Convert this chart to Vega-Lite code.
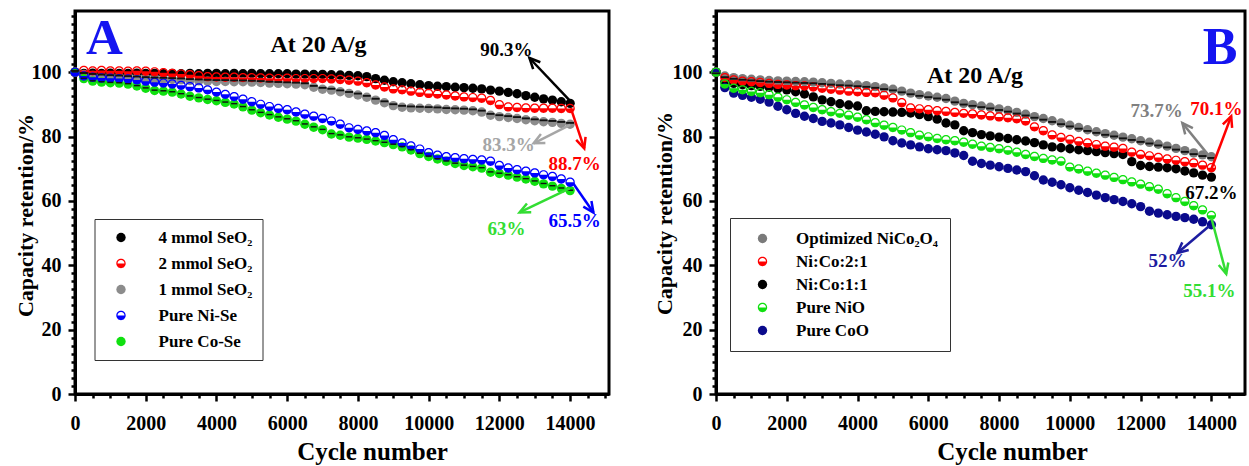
{
"$schema":"https://vega.github.io/schema/vega-lite/v6.json",
"padding":{"left":13,"top":4,"right":0,"bottom":0},
"spacing":40,
"background":"white",
"resolve":{"scale":{"fill":"independent","shape":"independent","size":"independent","color":"independent"},"legend":{"fill":"independent","shape":"independent","size":"independent","color":"independent"}},
"config":{"view":{"stroke":"black","strokeWidth":3},
"axis":{"domainColor":"black","domainWidth":3,"tickColor":"black","tickWidth":2.5,"labelFont":"Liberation Serif","labelFontWeight":"bold","labelFontSize":20,"labelColor":"black","titleFont":"Liberation Serif","titleFontWeight":"bold","titleColor":"black","grid":false,"labelFlush":false,"labelOverlap":false},
"font":"Liberation Serif"},
"datasets":{
"aPts":[
{"s":"a1","x":0,"y":100},{"s":"a1","x":250,"y":99.6},{"s":"a1","x":500,"y":99.7},{"s":"a1","x":750,"y":99.6},{"s":"a1","x":1000,"y":99.7},{"s":"a1","x":1250,"y":99.6},{"s":"a1","x":1500,"y":99.6},{"s":"a1","x":1750,"y":99.7},{"s":"a1","x":2000,"y":99.6},{"s":"a1","x":2250,"y":99.6},{"s":"a1","x":2500,"y":99.5},{"s":"a1","x":2750,"y":99.6},{"s":"a1","x":3000,"y":99.5},{"s":"a1","x":3250,"y":99.6},{"s":"a1","x":3500,"y":99.5},{"s":"a1","x":3750,"y":99.6},{"s":"a1","x":4000,"y":99.6},{"s":"a1","x":4250,"y":99.5},{"s":"a1","x":4500,"y":99.6},{"s":"a1","x":4750,"y":99.5},{"s":"a1","x":5000,"y":99.6},{"s":"a1","x":5250,"y":99.5},{"s":"a1","x":5500,"y":99.5},{"s":"a1","x":5750,"y":99.5},{"s":"a1","x":6000,"y":99.5},{"s":"a1","x":6250,"y":99.4},{"s":"a1","x":6500,"y":99.4},{"s":"a1","x":6750,"y":99.3},{"s":"a1","x":7000,"y":99.3},{"s":"a1","x":7250,"y":99.2},{"s":"a1","x":7500,"y":99.1},{"s":"a1","x":7750,"y":99.0},{"s":"a1","x":8000,"y":98.9},{"s":"a1","x":8250,"y":98.6},{"s":"a1","x":8500,"y":98.0},{"s":"a1","x":8750,"y":97.5},{"s":"a1","x":9000,"y":97.0},{"s":"a1","x":9250,"y":96.7},{"s":"a1","x":9500,"y":96.4},{"s":"a1","x":9750,"y":96.1},{"s":"a1","x":10000,"y":95.8},{"s":"a1","x":10250,"y":95.6},{"s":"a1","x":10500,"y":95.5},{"s":"a1","x":10750,"y":95.3},{"s":"a1","x":11000,"y":95.2},{"s":"a1","x":11250,"y":95.0},{"s":"a1","x":11500,"y":94.8},{"s":"a1","x":11750,"y":94.4},{"s":"a1","x":12000,"y":94.1},{"s":"a1","x":12250,"y":93.7},{"s":"a1","x":12500,"y":93.3},{"s":"a1","x":12750,"y":92.7},{"s":"a1","x":13000,"y":92.2},{"s":"a1","x":13250,"y":91.7},{"s":"a1","x":13500,"y":91.3},{"s":"a1","x":13750,"y":90.8},{"s":"a1","x":14000,"y":90.3},
{"s":"a3","x":0,"y":100},{"s":"a3","x":250,"y":99.3},{"s":"a3","x":500,"y":99.0},{"s":"a3","x":750,"y":98.8},{"s":"a3","x":1000,"y":98.6},{"s":"a3","x":1250,"y":98.5},{"s":"a3","x":1500,"y":98.3},{"s":"a3","x":1750,"y":98.2},{"s":"a3","x":2000,"y":98.0},{"s":"a3","x":2250,"y":97.9},{"s":"a3","x":2500,"y":97.8},{"s":"a3","x":2750,"y":97.7},{"s":"a3","x":3000,"y":97.6},{"s":"a3","x":3250,"y":97.4},{"s":"a3","x":3500,"y":97.3},{"s":"a3","x":3750,"y":97.2},{"s":"a3","x":4000,"y":97.1},{"s":"a3","x":4250,"y":97.1},{"s":"a3","x":4500,"y":97.0},{"s":"a3","x":4750,"y":97.0},{"s":"a3","x":5000,"y":96.9},{"s":"a3","x":5250,"y":96.8},{"s":"a3","x":5500,"y":96.6},{"s":"a3","x":5750,"y":96.5},{"s":"a3","x":6000,"y":96.4},{"s":"a3","x":6250,"y":96.3},{"s":"a3","x":6500,"y":96.1},{"s":"a3","x":6750,"y":95.3},{"s":"a3","x":7000,"y":94.7},{"s":"a3","x":7250,"y":94.4},{"s":"a3","x":7500,"y":93.9},{"s":"a3","x":7750,"y":93.4},{"s":"a3","x":8000,"y":92.9},{"s":"a3","x":8250,"y":92.2},{"s":"a3","x":8500,"y":91.3},{"s":"a3","x":8750,"y":90.5},{"s":"a3","x":9000,"y":89.6},{"s":"a3","x":9250,"y":89.1},{"s":"a3","x":9500,"y":88.9},{"s":"a3","x":9750,"y":88.8},{"s":"a3","x":10000,"y":88.7},{"s":"a3","x":10250,"y":88.6},{"s":"a3","x":10500,"y":88.4},{"s":"a3","x":10750,"y":88.3},{"s":"a3","x":11000,"y":88.2},{"s":"a3","x":11250,"y":88.0},{"s":"a3","x":11500,"y":87.6},{"s":"a3","x":11750,"y":86.6},{"s":"a3","x":12000,"y":86.2},{"s":"a3","x":12250,"y":85.9},{"s":"a3","x":12500,"y":85.6},{"s":"a3","x":12750,"y":85.2},{"s":"a3","x":13000,"y":84.9},{"s":"a3","x":13250,"y":84.6},{"s":"a3","x":13500,"y":84.4},{"s":"a3","x":13750,"y":84.1},{"s":"a3","x":14000,"y":83.8},
{"s":"a2","x":0,"y":100},{"s":"a2","x":250,"y":100.5},{"s":"a2","x":500,"y":100.4},{"s":"a2","x":750,"y":100.5},{"s":"a2","x":1000,"y":100.4},{"s":"a2","x":1250,"y":100.4},{"s":"a2","x":1500,"y":100.3},{"s":"a2","x":1750,"y":100.4},{"s":"a2","x":2000,"y":100.3},{"s":"a2","x":2250,"y":100.1},{"s":"a2","x":2500,"y":99.8},{"s":"a2","x":2750,"y":99.6},{"s":"a2","x":3000,"y":99.4},{"s":"a2","x":3250,"y":99.2},{"s":"a2","x":3500,"y":98.9},{"s":"a2","x":3750,"y":98.6},{"s":"a2","x":4000,"y":98.5},{"s":"a2","x":4250,"y":98.4},{"s":"a2","x":4500,"y":98.4},{"s":"a2","x":4750,"y":98.3},{"s":"a2","x":5000,"y":98.3},{"s":"a2","x":5250,"y":98.2},{"s":"a2","x":5500,"y":98.1},{"s":"a2","x":5750,"y":98.0},{"s":"a2","x":6000,"y":98.1},{"s":"a2","x":6250,"y":98.0},{"s":"a2","x":6500,"y":98.0},{"s":"a2","x":6750,"y":98.0},{"s":"a2","x":7000,"y":98.0},{"s":"a2","x":7250,"y":97.9},{"s":"a2","x":7500,"y":97.7},{"s":"a2","x":7750,"y":97.5},{"s":"a2","x":8000,"y":97.2},{"s":"a2","x":8250,"y":96.7},{"s":"a2","x":8500,"y":96.0},{"s":"a2","x":8750,"y":95.4},{"s":"a2","x":9000,"y":94.8},{"s":"a2","x":9250,"y":94.5},{"s":"a2","x":9500,"y":94.1},{"s":"a2","x":9750,"y":93.7},{"s":"a2","x":10000,"y":93.4},{"s":"a2","x":10250,"y":93.2},{"s":"a2","x":10500,"y":92.9},{"s":"a2","x":10750,"y":92.6},{"s":"a2","x":11000,"y":92.3},{"s":"a2","x":11250,"y":92.1},{"s":"a2","x":11500,"y":91.9},{"s":"a2","x":11750,"y":91.2},{"s":"a2","x":12000,"y":89.9},{"s":"a2","x":12250,"y":89.2},{"s":"a2","x":12500,"y":89.0},{"s":"a2","x":12750,"y":88.9},{"s":"a2","x":13000,"y":88.8},{"s":"a2","x":13250,"y":88.8},{"s":"a2","x":13500,"y":88.8},{"s":"a2","x":13750,"y":88.7},{"s":"a2","x":14000,"y":88.7},
{"s":"a5","x":0,"y":100},{"s":"a5","x":250,"y":98.0},{"s":"a5","x":500,"y":97.2},{"s":"a5","x":750,"y":96.9},{"s":"a5","x":1000,"y":96.7},{"s":"a5","x":1250,"y":96.6},{"s":"a5","x":1500,"y":96.3},{"s":"a5","x":1750,"y":95.7},{"s":"a5","x":2000,"y":95.0},{"s":"a5","x":2250,"y":94.3},{"s":"a5","x":2500,"y":94.1},{"s":"a5","x":2750,"y":93.8},{"s":"a5","x":3000,"y":93.2},{"s":"a5","x":3250,"y":92.5},{"s":"a5","x":3500,"y":92.0},{"s":"a5","x":3750,"y":91.5},{"s":"a5","x":4000,"y":91.1},{"s":"a5","x":4250,"y":90.6},{"s":"a5","x":4500,"y":90.1},{"s":"a5","x":4750,"y":89.2},{"s":"a5","x":5000,"y":88.2},{"s":"a5","x":5250,"y":87.4},{"s":"a5","x":5500,"y":86.7},{"s":"a5","x":5750,"y":86.0},{"s":"a5","x":6000,"y":85.4},{"s":"a5","x":6250,"y":84.8},{"s":"a5","x":6500,"y":83.8},{"s":"a5","x":6750,"y":82.9},{"s":"a5","x":7000,"y":82.1},{"s":"a5","x":7250,"y":80.8},{"s":"a5","x":7500,"y":80.4},{"s":"a5","x":7750,"y":79.8},{"s":"a5","x":8000,"y":79.5},{"s":"a5","x":8250,"y":79.1},{"s":"a5","x":8500,"y":78.6},{"s":"a5","x":8750,"y":78.1},{"s":"a5","x":9000,"y":77.5},{"s":"a5","x":9250,"y":76.8},{"s":"a5","x":9500,"y":75.8},{"s":"a5","x":9750,"y":74.7},{"s":"a5","x":10000,"y":73.8},{"s":"a5","x":10250,"y":73.0},{"s":"a5","x":10500,"y":72.3},{"s":"a5","x":10750,"y":71.6},{"s":"a5","x":11000,"y":71.0},{"s":"a5","x":11250,"y":70.6},{"s":"a5","x":11500,"y":70.2},{"s":"a5","x":11750,"y":68.9},{"s":"a5","x":12000,"y":68.5},{"s":"a5","x":12250,"y":68.0},{"s":"a5","x":12500,"y":67.4},{"s":"a5","x":12750,"y":66.8},{"s":"a5","x":13000,"y":66.1},{"s":"a5","x":13250,"y":65.3},{"s":"a5","x":13500,"y":64.6},{"s":"a5","x":13750,"y":63.9},{"s":"a5","x":14000,"y":63.2},
{"s":"a4","x":0,"y":100},{"s":"a4","x":250,"y":98.8},{"s":"a4","x":500,"y":98.4},{"s":"a4","x":750,"y":98.2},{"s":"a4","x":1000,"y":98.1},{"s":"a4","x":1250,"y":98.0},{"s":"a4","x":1500,"y":97.9},{"s":"a4","x":1750,"y":97.6},{"s":"a4","x":2000,"y":97.2},{"s":"a4","x":2250,"y":96.9},{"s":"a4","x":2500,"y":96.6},{"s":"a4","x":2750,"y":96.3},{"s":"a4","x":3000,"y":95.9},{"s":"a4","x":3250,"y":95.5},{"s":"a4","x":3500,"y":95.1},{"s":"a4","x":3750,"y":94.5},{"s":"a4","x":4000,"y":93.8},{"s":"a4","x":4250,"y":93.1},{"s":"a4","x":4500,"y":92.4},{"s":"a4","x":4750,"y":91.6},{"s":"a4","x":5000,"y":90.8},{"s":"a4","x":5250,"y":90.0},{"s":"a4","x":5500,"y":89.3},{"s":"a4","x":5750,"y":88.7},{"s":"a4","x":6000,"y":88.3},{"s":"a4","x":6250,"y":87.6},{"s":"a4","x":6500,"y":86.9},{"s":"a4","x":6750,"y":86.3},{"s":"a4","x":7000,"y":85.6},{"s":"a4","x":7250,"y":84.8},{"s":"a4","x":7500,"y":83.8},{"s":"a4","x":7750,"y":82.7},{"s":"a4","x":8000,"y":82.2},{"s":"a4","x":8250,"y":81.7},{"s":"a4","x":8500,"y":81.2},{"s":"a4","x":8750,"y":80.3},{"s":"a4","x":9000,"y":79.0},{"s":"a4","x":9250,"y":78.0},{"s":"a4","x":9500,"y":77.1},{"s":"a4","x":9750,"y":76.1},{"s":"a4","x":10000,"y":75.0},{"s":"a4","x":10250,"y":74.2},{"s":"a4","x":10500,"y":73.7},{"s":"a4","x":10750,"y":73.4},{"s":"a4","x":11000,"y":73.1},{"s":"a4","x":11250,"y":72.9},{"s":"a4","x":11500,"y":72.7},{"s":"a4","x":11750,"y":72.3},{"s":"a4","x":12000,"y":71.0},{"s":"a4","x":12250,"y":70.2},{"s":"a4","x":12500,"y":69.7},{"s":"a4","x":12750,"y":69.2},{"s":"a4","x":13000,"y":68.7},{"s":"a4","x":13250,"y":68.1},{"s":"a4","x":13500,"y":67.6},{"s":"a4","x":13750,"y":66.8},{"s":"a4","x":14000,"y":65.8}
],
"bPts":[
{"s":"b3","x":0,"y":100},{"s":"b3","x":250,"y":97.0},{"s":"b3","x":500,"y":96.5},{"s":"b3","x":750,"y":96.1},{"s":"b3","x":1000,"y":95.8},{"s":"b3","x":1250,"y":95.6},{"s":"b3","x":1500,"y":95.3},{"s":"b3","x":1750,"y":94.9},{"s":"b3","x":2000,"y":94.5},{"s":"b3","x":2250,"y":93.9},{"s":"b3","x":2500,"y":93.2},{"s":"b3","x":2750,"y":92.3},{"s":"b3","x":3000,"y":91.4},{"s":"b3","x":3250,"y":90.8},{"s":"b3","x":3500,"y":90.2},{"s":"b3","x":3750,"y":89.8},{"s":"b3","x":4000,"y":89.5},{"s":"b3","x":4250,"y":88.0},{"s":"b3","x":4500,"y":87.8},{"s":"b3","x":4750,"y":87.7},{"s":"b3","x":5000,"y":87.6},{"s":"b3","x":5250,"y":87.5},{"s":"b3","x":5500,"y":87.3},{"s":"b3","x":5750,"y":86.8},{"s":"b3","x":6000,"y":86.2},{"s":"b3","x":6250,"y":85.4},{"s":"b3","x":6500,"y":84.2},{"s":"b3","x":6750,"y":83.6},{"s":"b3","x":7000,"y":81.8},{"s":"b3","x":7250,"y":81.2},{"s":"b3","x":7500,"y":80.6},{"s":"b3","x":7750,"y":80.2},{"s":"b3","x":8000,"y":79.8},{"s":"b3","x":8250,"y":79.4},{"s":"b3","x":8500,"y":79.0},{"s":"b3","x":8750,"y":78.6},{"s":"b3","x":9000,"y":78.1},{"s":"b3","x":9250,"y":77.4},{"s":"b3","x":9500,"y":76.8},{"s":"b3","x":9750,"y":76.5},{"s":"b3","x":10000,"y":76.2},{"s":"b3","x":10250,"y":75.9},{"s":"b3","x":10500,"y":75.6},{"s":"b3","x":10750,"y":75.3},{"s":"b3","x":11000,"y":75.0},{"s":"b3","x":11250,"y":74.7},{"s":"b3","x":11500,"y":74.4},{"s":"b3","x":11750,"y":72.2},{"s":"b3","x":12000,"y":71.0},{"s":"b3","x":12250,"y":70.7},{"s":"b3","x":12500,"y":70.5},{"s":"b3","x":12750,"y":70.3},{"s":"b3","x":13000,"y":70.0},{"s":"b3","x":13250,"y":69.3},{"s":"b3","x":13500,"y":68.7},{"s":"b3","x":13750,"y":68.0},{"s":"b3","x":14000,"y":67.4},
{"s":"b1","x":0,"y":100},{"s":"b1","x":250,"y":98.8},{"s":"b1","x":500,"y":98.3},{"s":"b1","x":750,"y":98.0},{"s":"b1","x":1000,"y":97.8},{"s":"b1","x":1250,"y":97.6},{"s":"b1","x":1500,"y":97.4},{"s":"b1","x":1750,"y":97.3},{"s":"b1","x":2000,"y":97.2},{"s":"b1","x":2250,"y":97.1},{"s":"b1","x":2500,"y":97.0},{"s":"b1","x":2750,"y":96.9},{"s":"b1","x":3000,"y":96.7},{"s":"b1","x":3250,"y":96.5},{"s":"b1","x":3500,"y":96.3},{"s":"b1","x":3750,"y":96.2},{"s":"b1","x":4000,"y":96.0},{"s":"b1","x":4250,"y":95.8},{"s":"b1","x":4500,"y":95.5},{"s":"b1","x":4750,"y":95.1},{"s":"b1","x":5000,"y":94.7},{"s":"b1","x":5250,"y":94.1},{"s":"b1","x":5500,"y":93.5},{"s":"b1","x":5750,"y":93.0},{"s":"b1","x":6000,"y":92.6},{"s":"b1","x":6250,"y":92.2},{"s":"b1","x":6500,"y":91.8},{"s":"b1","x":6750,"y":91.0},{"s":"b1","x":7000,"y":90.3},{"s":"b1","x":7250,"y":89.9},{"s":"b1","x":7500,"y":89.5},{"s":"b1","x":7750,"y":89.1},{"s":"b1","x":8000,"y":88.6},{"s":"b1","x":8250,"y":88.1},{"s":"b1","x":8500,"y":87.5},{"s":"b1","x":8750,"y":86.9},{"s":"b1","x":9000,"y":86.2},{"s":"b1","x":9250,"y":85.6},{"s":"b1","x":9500,"y":84.9},{"s":"b1","x":9750,"y":84.2},{"s":"b1","x":10000,"y":83.5},{"s":"b1","x":10250,"y":82.8},{"s":"b1","x":10500,"y":82.1},{"s":"b1","x":10750,"y":81.5},{"s":"b1","x":11000,"y":80.9},{"s":"b1","x":11250,"y":80.4},{"s":"b1","x":11500,"y":79.8},{"s":"b1","x":11750,"y":79.3},{"s":"b1","x":12000,"y":78.7},{"s":"b1","x":12250,"y":78.2},{"s":"b1","x":12500,"y":77.6},{"s":"b1","x":12750,"y":77.0},{"s":"b1","x":13000,"y":76.3},{"s":"b1","x":13250,"y":75.6},{"s":"b1","x":13500,"y":74.9},{"s":"b1","x":13750,"y":74.3},{"s":"b1","x":14000,"y":73.7},
{"s":"b2","x":0,"y":100},{"s":"b2","x":250,"y":98.3},{"s":"b2","x":500,"y":97.6},{"s":"b2","x":750,"y":97.2},{"s":"b2","x":1000,"y":97.0},{"s":"b2","x":1250,"y":96.8},{"s":"b2","x":1500,"y":96.5},{"s":"b2","x":1750,"y":96.2},{"s":"b2","x":2000,"y":96.0},{"s":"b2","x":2250,"y":95.8},{"s":"b2","x":2500,"y":95.7},{"s":"b2","x":2750,"y":95.4},{"s":"b2","x":3000,"y":95.0},{"s":"b2","x":3250,"y":94.7},{"s":"b2","x":3500,"y":94.4},{"s":"b2","x":3750,"y":94.1},{"s":"b2","x":4000,"y":93.9},{"s":"b2","x":4250,"y":93.7},{"s":"b2","x":4500,"y":93.6},{"s":"b2","x":4750,"y":92.8},{"s":"b2","x":5000,"y":92.0},{"s":"b2","x":5250,"y":90.5},{"s":"b2","x":5500,"y":88.9},{"s":"b2","x":5750,"y":88.6},{"s":"b2","x":6000,"y":88.3},{"s":"b2","x":6250,"y":88.0},{"s":"b2","x":6500,"y":87.8},{"s":"b2","x":6750,"y":87.5},{"s":"b2","x":7000,"y":87.2},{"s":"b2","x":7250,"y":87.0},{"s":"b2","x":7500,"y":86.7},{"s":"b2","x":7750,"y":86.4},{"s":"b2","x":8000,"y":86.1},{"s":"b2","x":8250,"y":85.8},{"s":"b2","x":8500,"y":85.5},{"s":"b2","x":8750,"y":84.8},{"s":"b2","x":9000,"y":83.0},{"s":"b2","x":9250,"y":81.8},{"s":"b2","x":9500,"y":80.5},{"s":"b2","x":9750,"y":79.7},{"s":"b2","x":10000,"y":79.1},{"s":"b2","x":10250,"y":78.5},{"s":"b2","x":10500,"y":78.0},{"s":"b2","x":10750,"y":77.5},{"s":"b2","x":11000,"y":77.0},{"s":"b2","x":11250,"y":76.7},{"s":"b2","x":11500,"y":76.3},{"s":"b2","x":11750,"y":75.1},{"s":"b2","x":12000,"y":74.4},{"s":"b2","x":12250,"y":74.0},{"s":"b2","x":12500,"y":73.5},{"s":"b2","x":12750,"y":73.0},{"s":"b2","x":13000,"y":72.6},{"s":"b2","x":13250,"y":72.2},{"s":"b2","x":13500,"y":71.8},{"s":"b2","x":13750,"y":71.1},{"s":"b2","x":14000,"y":70.3},
{"s":"b5","x":0,"y":100},{"s":"b5","x":250,"y":95.2},{"s":"b5","x":500,"y":93.5},{"s":"b5","x":750,"y":92.8},{"s":"b5","x":1000,"y":92.2},{"s":"b5","x":1250,"y":91.6},{"s":"b5","x":1500,"y":90.7},{"s":"b5","x":1750,"y":89.4},{"s":"b5","x":2000,"y":88.3},{"s":"b5","x":2250,"y":87.2},{"s":"b5","x":2500,"y":86.3},{"s":"b5","x":2750,"y":85.6},{"s":"b5","x":3000,"y":84.7},{"s":"b5","x":3250,"y":84.2},{"s":"b5","x":3500,"y":83.6},{"s":"b5","x":3750,"y":82.8},{"s":"b5","x":4000,"y":82.0},{"s":"b5","x":4250,"y":81.4},{"s":"b5","x":4500,"y":80.7},{"s":"b5","x":4750,"y":79.9},{"s":"b5","x":5000,"y":78.7},{"s":"b5","x":5250,"y":78.0},{"s":"b5","x":5500,"y":77.4},{"s":"b5","x":5750,"y":76.8},{"s":"b5","x":6000,"y":76.2},{"s":"b5","x":6250,"y":75.9},{"s":"b5","x":6500,"y":75.6},{"s":"b5","x":6750,"y":74.9},{"s":"b5","x":7000,"y":74.1},{"s":"b5","x":7250,"y":72.3},{"s":"b5","x":7500,"y":71.6},{"s":"b5","x":7750,"y":71.1},{"s":"b5","x":8000,"y":70.6},{"s":"b5","x":8250,"y":70.1},{"s":"b5","x":8500,"y":69.6},{"s":"b5","x":8750,"y":69.1},{"s":"b5","x":9000,"y":67.8},{"s":"b5","x":9250,"y":66.5},{"s":"b5","x":9500,"y":65.8},{"s":"b5","x":9750,"y":65.0},{"s":"b5","x":10000,"y":64.1},{"s":"b5","x":10250,"y":63.3},{"s":"b5","x":10500,"y":62.6},{"s":"b5","x":10750,"y":61.8},{"s":"b5","x":11000,"y":61.0},{"s":"b5","x":11250,"y":60.4},{"s":"b5","x":11500,"y":59.8},{"s":"b5","x":11750,"y":59.1},{"s":"b5","x":12000,"y":58.2},{"s":"b5","x":12250,"y":56.8},{"s":"b5","x":12500,"y":56.2},{"s":"b5","x":12750,"y":55.7},{"s":"b5","x":13000,"y":55.2},{"s":"b5","x":13250,"y":54.8},{"s":"b5","x":13500,"y":54.3},{"s":"b5","x":13750,"y":53.5},{"s":"b5","x":14000,"y":52.6},
{"s":"b4","x":0,"y":100},{"s":"b4","x":250,"y":96.3},{"s":"b4","x":500,"y":95.0},{"s":"b4","x":750,"y":94.5},{"s":"b4","x":1000,"y":94.0},{"s":"b4","x":1250,"y":93.6},{"s":"b4","x":1500,"y":93.0},{"s":"b4","x":1750,"y":92.2},{"s":"b4","x":2000,"y":91.4},{"s":"b4","x":2250,"y":90.6},{"s":"b4","x":2500,"y":89.8},{"s":"b4","x":2750,"y":89.0},{"s":"b4","x":3000,"y":88.3},{"s":"b4","x":3250,"y":87.7},{"s":"b4","x":3500,"y":87.2},{"s":"b4","x":3750,"y":86.6},{"s":"b4","x":4000,"y":86.0},{"s":"b4","x":4250,"y":85.2},{"s":"b4","x":4500,"y":84.3},{"s":"b4","x":4750,"y":83.5},{"s":"b4","x":5000,"y":82.8},{"s":"b4","x":5250,"y":82.0},{"s":"b4","x":5500,"y":81.2},{"s":"b4","x":5750,"y":80.4},{"s":"b4","x":6000,"y":79.9},{"s":"b4","x":6250,"y":79.4},{"s":"b4","x":6500,"y":79.0},{"s":"b4","x":6750,"y":78.7},{"s":"b4","x":7000,"y":78.2},{"s":"b4","x":7250,"y":77.6},{"s":"b4","x":7500,"y":77.0},{"s":"b4","x":7750,"y":76.6},{"s":"b4","x":8000,"y":76.2},{"s":"b4","x":8250,"y":75.7},{"s":"b4","x":8500,"y":75.1},{"s":"b4","x":8750,"y":74.4},{"s":"b4","x":9000,"y":73.8},{"s":"b4","x":9250,"y":73.2},{"s":"b4","x":9500,"y":72.7},{"s":"b4","x":9750,"y":72.3},{"s":"b4","x":10000,"y":70.5},{"s":"b4","x":10250,"y":69.9},{"s":"b4","x":10500,"y":69.2},{"s":"b4","x":10750,"y":68.6},{"s":"b4","x":11000,"y":68.0},{"s":"b4","x":11250,"y":67.3},{"s":"b4","x":11500,"y":66.6},{"s":"b4","x":11750,"y":65.9},{"s":"b4","x":12000,"y":65.2},{"s":"b4","x":12250,"y":64.4},{"s":"b4","x":12500,"y":63.6},{"s":"b4","x":12750,"y":62.2},{"s":"b4","x":13000,"y":61.0},{"s":"b4","x":13250,"y":59.8},{"s":"b4","x":13500,"y":58.5},{"s":"b4","x":13750,"y":57.2},{"s":"b4","x":14000,"y":55.5}
],
"aArrows":[
{"c":"k","x0":14040,"y0":90.6,"x":12850,"y":104.4},
{"c":"g","x0":14000,"y0":83.6,"x":12970,"y":77.9},
{"c":"r","x0":14020,"y0":88.8,"x":14400,"y":76.3},
{"c":"b","x0":14090,"y0":65.4,"x":14660,"y":56.4},
{"c":"gr","x0":13990,"y0":63.9,"x":12570,"y":56.4}
],
"aLabels":[
{"c":"k","x":12200,"y":106.9,"t":"90.3%"},
{"c":"g","x":12260,"y":77.3,"t":"83.3%"},
{"c":"r","x":14130,"y":71.6,"t":"88.7%"},
{"c":"b","x":14130,"y":53.9,"t":"65.5%"},
{"c":"gr","x":12200,"y":51.4,"t":"63%"}
],
"bArrows":[
{"c":"g","x0":13940,"y0":73.9,"x":13180,"y":84.2},
{"c":"r","x0":14000,"y0":69.9,"x":14560,"y":86.3},
{"c":"n","x0":13940,"y0":52.2,"x":13040,"y":43.8},
{"c":"gr","x0":14000,"y0":54.7,"x":14420,"y":37.3}
],
"bLabels":[
{"c":"g","x":12450,"y":87.9,"t":"73.7%"},
{"c":"r","x":14140,"y":88.5,"t":"70.1%"},
{"c":"k","x":14000,"y":62.4,"t":"67.2%"},
{"c":"n","x":12760,"y":41.3,"t":"52%"},
{"c":"gr","x":13940,"y":32,"t":"55.1%"}
]
},
"hconcat":[
{
"width":534,"height":383,
"encoding":{
"x":{"field":"x","type":"quantitative","scale":{"domain":[0,15100],"nice":false,"zero":false},
"axis":{"title":"Cycle number","values":[0,500,1000,1500,2000,2500,3000,3500,4000,4500,5000,5500,6000,6500,7000,7500,8000,8500,9000,9500,10000,10500,11000,11500,12000,12500,13000,13500,14000,14500,15000],"format":"d","labelExpr":"datum.value % 2000 === 0 ? datum.label : ''","tickSize":{"condition":{"test":"datum.value % 2000 === 0","value":7},"value":4},"labelPadding":12,"titleFontSize":25,"titleX":297,"titleY":65,"titleBaseline":"alphabetic"}},
"y":{"field":"y","type":"quantitative","scale":{"domain":[0,119],"nice":false,"zero":false},
"axis":{"title":"Capacity retention/%","values":[0,2.5,5,7.5,10,12.5,15,17.5,20,22.5,25,27.5,30,32.5,35,37.5,40,42.5,45,47.5,50,52.5,55,57.5,60,62.5,65,67.5,70,72.5,75,77.5,80,82.5,85,87.5,90,92.5,95,97.5,100,102.5,105,107.5,110,112.5,115,117.5],"labelExpr":"datum.value % 20 === 0 && datum.value <= 100 ? datum.label : ''","tickSize":{"condition":{"test":"datum.value % 20 === 0","value":7},"value":4},"labelPadding":7,"titleFontSize":22,"titleX":-49.5,"titleY":204,"titleBaseline":"middle","titleAngle":-90}}
},
"layer":[
{"data":{"name":"aPts"},"mark":{"type":"point","filled":true,"opacity":1,"strokeWidth":0},
"encoding":{
"fill":{"field":"s","type":"nominal","scale":{"domain":["a1","a2","a3","a4","a5"],"range":["#000000","#ff0000","#8c8c8c","#0000ff","#10e010"]},
"legend":{"title":null,"orient":"none","legendX":19.5,"legendY":208,"padding":10,"symbolOffset":8,"labelOffset":29,"rowPadding":8,"strokeColor":"#333333","fillColor":"#ffffff","labelFont":"Liberation Serif","labelFontWeight":"bold","labelFontSize":17,"labelColor":"black","symbolStrokeWidth":0,
"labelExpr":"datum.value === 'a1' ? '4 mmol SeO₂' : datum.value === 'a2' ? '2 mmol SeO₂' : datum.value === 'a3' ? '1 mmol SeO₂' : datum.value === 'a4' ? 'Pure Ni-Se' : 'Pure Co-Se'"}},
"shape":{"field":"s","type":"nominal","scale":{"domain":["a1","a2","a3","a4","a5"],"range":["circle","M-1,0A1,1 0 1,1 1,0A1,1 0 1,1 -1,0ZM-0.74,0L0.74,0A0.74,0.74 0 0,0 -0.74,0Z","circle","M-1,0A1,1 0 1,1 1,0A1,1 0 1,1 -1,0ZM-0.74,0L0.74,0A0.74,0.74 0 0,0 -0.74,0Z","circle"]},
"legend":{"title":null,"orient":"none","legendX":19.5,"legendY":208,"padding":10,"symbolOffset":8,"labelOffset":29,"rowPadding":8,"strokeColor":"#333333","fillColor":"#ffffff","labelFont":"Liberation Serif","labelFontWeight":"bold","labelFontSize":17,"labelColor":"black","symbolStrokeWidth":0,
"labelExpr":"datum.value === 'a1' ? '4 mmol SeO₂' : datum.value === 'a2' ? '2 mmol SeO₂' : datum.value === 'a3' ? '1 mmol SeO₂' : datum.value === 'a4' ? 'Pure Ni-Se' : 'Pure Co-Se'"}},
"size":{"field":"s","type":"nominal","scale":{"domain":["a1","a2","a3","a4","a5"],"range":[88,88,88,88,50]},
"legend":{"title":null,"orient":"none","legendX":19.5,"legendY":208,"padding":10,"symbolOffset":8,"labelOffset":29,"rowPadding":8,"strokeColor":"#333333","fillColor":"#ffffff","labelFont":"Liberation Serif","labelFontWeight":"bold","labelFontSize":17,"labelColor":"black","symbolStrokeWidth":0,
"labelExpr":"datum.value === 'a1' ? '4 mmol SeO₂' : datum.value === 'a2' ? '2 mmol SeO₂' : datum.value === 'a3' ? '1 mmol SeO₂' : datum.value === 'a4' ? 'Pure Ni-Se' : 'Pure Co-Se'"}}
}},
{"data":{"name":"aPts"},"transform":[{"filter":"datum.s === 'a3'"}],"mark":{"type":"point","filled":true,"opacity":1,"strokeWidth":0,"color":"#111111","size":88,"shape":"M-0.85,-0.5L0.85,-0.5L0.85,-0.1L-0.85,-0.1Z"},"encoding":{}},
{"data":{"name":"aPts"},"transform":[{"filter":"datum.s === 'a5'"}],"mark":{"type":"point","filled":true,"opacity":1,"strokeWidth":0,"color":"#111111","size":50,"shape":"M-0.85,-0.3L0.85,-0.3L0.85,0.1L-0.85,0.1Z"},"encoding":{}},
{"data":{"name":"aArrows"},"mark":{"type":"rule","strokeWidth":2.5},
"encoding":{"x2":{"field":"x0"},"y2":{"field":"y0"},"color":{"field":"c","type":"nominal","scale":{"domain":["k","g","r","b","gr"],"range":["#000000","#a6a6a6","#ff0000","#0000ff","#33dd33"]},"legend":null}}},
{"data":{"name":"aArrows"},"transform":[{"calculate":"atan2((datum.x-datum.x0)*0.03537,(datum.y-datum.y0)*3.21)*180/PI","as":"ang"}],
"mark":{"type":"point","shape":"M-0.7,1.5L0,0L0.7,1.5","filled":false,"strokeWidth":2.5,"size":200,"opacity":1},
"encoding":{"angle":{"field":"ang","type":"quantitative","scale":null},"color":{"field":"c","type":"nominal","scale":{"domain":["k","g","r","b","gr"],"range":["#000000","#a6a6a6","#ff0000","#0000ff","#33dd33"]},"legend":null}}},
{"data":{"name":"aLabels"},"mark":{"type":"text","font":"Liberation Serif","fontWeight":"bold","fontSize":19,"align":"center","baseline":"middle"},
"encoding":{"text":{"field":"t"},"color":{"field":"c","type":"nominal","scale":{"domain":["k","g","r","b","gr"],"range":["#000000","#a6a6a6","#ff0000","#0000ff","#33dd33"]},"legend":null}}},
{"data":{"values":[{"x":834,"y":105.6,"t":"A"}]},"mark":{"type":"text","font":"Liberation Serif","fontWeight":"bold","fontSize":51,"align":"center","baseline":"alphabetic","color":"#1414f0"},"encoding":{"text":{"field":"t"}}},
{"data":{"values":[{"x":6884,"y":106.2,"t":"At 20 A/g"}]},"mark":{"type":"text","font":"Liberation Serif","fontWeight":"bold","fontSize":24,"align":"center","baseline":"alphabetic","color":"#000000"},"encoding":{"text":{"field":"t"}}}
]
},
{
"width":529,"height":383,
"encoding":{
"x":{"field":"x","type":"quantitative","scale":{"domain":[0,14950],"nice":false,"zero":false},
"axis":{"title":"Cycle number","values":[0,500,1000,1500,2000,2500,3000,3500,4000,4500,5000,5500,6000,6500,7000,7500,8000,8500,9000,9500,10000,10500,11000,11500,12000,12500,13000,13500,14000,14500],"format":"d","labelExpr":"datum.value % 2000 === 0 ? datum.label : ''","tickSize":{"condition":{"test":"datum.value % 2000 === 0","value":7},"value":4},"labelPadding":12,"titleFontSize":25,"titleX":296,"titleY":65,"titleBaseline":"alphabetic"}},
"y":{"field":"y","type":"quantitative","scale":{"domain":[0,119],"nice":false,"zero":false},
"axis":{"title":"Capacity retention/%","values":[0,2.5,5,7.5,10,12.5,15,17.5,20,22.5,25,27.5,30,32.5,35,37.5,40,42.5,45,47.5,50,52.5,55,57.5,60,62.5,65,67.5,70,72.5,75,77.5,80,82.5,85,87.5,90,92.5,95,97.5,100,102.5,105,107.5,110,112.5,115,117.5],"labelExpr":"datum.value % 20 === 0 && datum.value <= 100 ? datum.label : ''","tickSize":{"condition":{"test":"datum.value % 20 === 0","value":7},"value":4},"labelPadding":7,"titleFontSize":22,"titleX":-52,"titleY":202,"titleBaseline":"middle","titleAngle":-90}}
},
"layer":[
{"data":{"name":"bPts"},"mark":{"type":"point","filled":true,"opacity":1,"strokeWidth":0},
"encoding":{
"fill":{"field":"s","type":"nominal","scale":{"domain":["b1","b2","b3","b4","b5"],"range":["#7a7a7a","#ff0000","#000000","#10e010","#0a0a8c"]},
"legend":{"title":null,"orient":"none","legendX":14,"legendY":207,"padding":12,"symbolOffset":12,"labelOffset":25,"rowPadding":5,"strokeColor":"#333333","fillColor":"#ffffff","labelFont":"Liberation Serif","labelFontWeight":"bold","labelFontSize":17,"labelColor":"black","symbolStrokeWidth":0,
"labelExpr":"datum.value === 'b1' ? 'Optimized NiCo₂O₄' : datum.value === 'b2' ? 'Ni:Co:2:1' : datum.value === 'b3' ? 'Ni:Co:1:1' : datum.value === 'b4' ? 'Pure NiO' : 'Pure CoO'"}},
"shape":{"field":"s","type":"nominal","scale":{"domain":["b1","b2","b3","b4","b5"],"range":["circle","M-1,0A1,1 0 1,1 1,0A1,1 0 1,1 -1,0ZM-0.74,0L0.74,0A0.74,0.74 0 0,0 -0.74,0Z","circle","M-1,0A1,1 0 1,1 1,0A1,1 0 1,1 -1,0ZM-0.74,0L0.74,0A0.74,0.74 0 0,0 -0.74,0Z","circle"]},
"legend":{"title":null,"orient":"none","legendX":14,"legendY":207,"padding":12,"symbolOffset":12,"labelOffset":25,"rowPadding":5,"strokeColor":"#333333","fillColor":"#ffffff","labelFont":"Liberation Serif","labelFontWeight":"bold","labelFontSize":17,"labelColor":"black","symbolStrokeWidth":0,
"labelExpr":"datum.value === 'b1' ? 'Optimized NiCo₂O₄' : datum.value === 'b2' ? 'Ni:Co:2:1' : datum.value === 'b3' ? 'Ni:Co:1:1' : datum.value === 'b4' ? 'Pure NiO' : 'Pure CoO'"}},
"size":{"field":"s","type":"nominal","scale":{"domain":["b1","b2","b3","b4","b5"],"range":[88,88,88,88,50]},
"legend":{"title":null,"orient":"none","legendX":14,"legendY":207,"padding":12,"symbolOffset":12,"labelOffset":25,"rowPadding":5,"strokeColor":"#333333","fillColor":"#ffffff","labelFont":"Liberation Serif","labelFontWeight":"bold","labelFontSize":17,"labelColor":"black","symbolStrokeWidth":0,
"labelExpr":"datum.value === 'b1' ? 'Optimized NiCo₂O₄' : datum.value === 'b2' ? 'Ni:Co:2:1' : datum.value === 'b3' ? 'Ni:Co:1:1' : datum.value === 'b4' ? 'Pure NiO' : 'Pure CoO'"}}
}},
{"data":{"name":"bPts"},"transform":[{"filter":"datum.s === 'b1'"}],"mark":{"type":"point","filled":true,"opacity":1,"strokeWidth":0,"color":"#111111","size":88,"shape":"M-0.85,0.05L0.85,0.05L0.85,0.45L-0.85,0.45Z"},"encoding":{}},
{"data":{"name":"bArrows"},"mark":{"type":"rule","strokeWidth":2.5},
"encoding":{"x2":{"field":"x0"},"y2":{"field":"y0"},"color":{"field":"c","type":"nominal","scale":{"domain":["k","g","r","n","gr"],"range":["#000000","#808080","#ff0000","#1c1ca0","#33dd33"]},"legend":null}}},
{"data":{"name":"bArrows"},"transform":[{"calculate":"atan2((datum.x-datum.x0)*0.03538,(datum.y-datum.y0)*3.22)*180/PI","as":"ang"}],
"mark":{"type":"point","shape":"M-0.7,1.5L0,0L0.7,1.5","filled":false,"strokeWidth":2.5,"size":200,"opacity":1},
"encoding":{"angle":{"field":"ang","type":"quantitative","scale":null},"color":{"field":"c","type":"nominal","scale":{"domain":["k","g","r","n","gr"],"range":["#000000","#808080","#ff0000","#1c1ca0","#33dd33"]},"legend":null}}},
{"data":{"name":"bLabels"},"mark":{"type":"text","font":"Liberation Serif","fontWeight":"bold","fontSize":19,"align":"center","baseline":"middle"},
"encoding":{"text":{"field":"t"},"color":{"field":"c","type":"nominal","scale":{"domain":["k","g","r","n","gr"],"range":["#000000","#808080","#ff0000","#1c1ca0","#33dd33"]},"legend":null}}},
{"data":{"values":[{"x":14245,"y":102.5,"t":"B"}]},"mark":{"type":"text","font":"Liberation Serif","fontWeight":"bold","fontSize":52,"align":"center","baseline":"alphabetic","color":"#1414f0"},"encoding":{"text":{"field":"t"}}},
{"data":{"values":[{"x":7320,"y":96.6,"t":"At 20 A/g"}]},"mark":{"type":"text","font":"Liberation Serif","fontWeight":"bold","fontSize":24,"align":"center","baseline":"alphabetic","color":"#000000"},"encoding":{"text":{"field":"t"}}}
]
}
]
}
